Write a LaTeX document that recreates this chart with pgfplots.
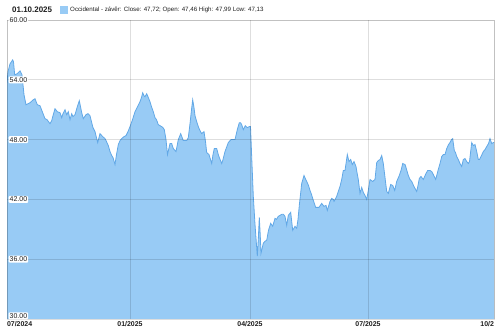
\documentclass[border=0pt]{standalone}
\usepackage{pgfplots}
\pgfplotsset{compat=1.18}
\usepackage{pgfplotstable}
\usepackage{fontspec}
\setmainfont{Liberation Sans}
\definecolor{areafill}{RGB}{152,203,245}
\definecolor{arealine}{RGB}{98,168,230}
\definecolor{txt}{RGB}{30,30,30}
\pgfplotstableread{
x y
7 53.7
8 54.8
10 55.6
12.7 56.0
13.5 55.8
14.7 54.5
17 54.6
20 54.9
22 54.5
24 52.5
26 51.5
28 51.6
30 51.7
33.3 52.0
35 52.1
37.3 51.5
40 51.4
42.7 50.7
45 50.1
47 50.0
50 49.6
51.7 49.9
53 50.4
55 51.1
57.3 50.8
60 50.7
61.7 50.2
63 50.6
65 51.0
66.7 50.5
68.3 50.8
70 50.0
71.7 50.6
73 50.3
75 50.5
77.3 51.3
79.3 51.9
81.7 50.7
83.3 50.1
86 50.5
88 50.6
90 50.4
91.7 49.7
93 49.2
95 48.8
97.7 47.7
100 48.6
102.7 48.3
105 48.1
106.5 47.8
108.3 47.4
110 46.8
111.7 46.4
113 46.2
115 45.5
116.5 46.5
118.3 47.5
120 47.9
121.7 48.1
124 48.3
126 48.4
128 48.8
130 49.3
132.5 50.0
135 50.8
137.5 51.3
140 51.8
141.7 52.3
142.7 52.7
144 52.4
145 52.3
146.7 52.6
148 52.3
150 51.8
151.5 51.3
153.3 50.8
155 50.2
156.5 50.0
158.3 49.5
160 49.4
161.7 49.3
163 49.2
164.3 49.0
166 48.0
167.5 46.5
170 47.6
171.7 47.6
173.3 47.1
176 46.8
178.3 48.0
180.7 48.6
183.3 47.9
186.7 47.9
188.3 48.2
190 49.6
191.5 51.0
192.7 52.0
194 51.2
195 50.4
196.7 49.8
198.3 49.3
200 48.9
201.7 48.6
204 48.8
205.5 47.8
206.7 46.7
209 46.5
210.5 46.0
211.7 45.6
213 46.5
214.3 47.1
216.7 47.1
218 46.6
219.3 46.2
221.7 45.6
223 46.0
225 46.8
228.3 47.7
231 48.0
235 48.0
237.3 49.0
239.3 49.7
240.5 49.7
241.7 49.5
243.3 49.0
245.3 49.4
247.3 49.2
249.3 49.3
250.5 49.3
252 45.5
253.3 42.3
255 39.5
257.3 36.3
258.3 38.0
259.3 40.2
260.2 38.5
261 36.6
263.3 37.6
265 37.8
266.7 37.9
268.5 38.9
270.7 39.6
272.7 39.3
275 40.1
276.5 40.0
278.3 40.3
280 40.4
281.7 40.5
283.5 40.5
285 40.3
286.7 39.4
288.3 40.4
290.7 40.7
292.7 38.9
295 39.3
296.7 39.1
298 40.0
299.3 41.4
300.5 42.5
301.7 43.6
304 44.4
305.3 44.1
306.7 43.8
308.5 43.4
310 42.9
311.5 42.5
312.7 42.1
314 41.7
315.7 41.2
317.5 41.2
319 41.2
321.7 41.6
324 41.3
326 41.4
327.3 40.9
330 41.8
331.7 42.1
333.3 42.0
334 41.8
336.7 42.3
338.3 42.8
340 43.3
341.7 44.0
343.3 44.9
345 44.9
347.3 46.5
349 45.8
350.7 46.0
352.3 45.5
354 45.8
356 45.3
357 44.7
358.3 44.0
360 42.6
361.7 43.2
363.3 42.7
365 42.4
366.7 42.0
368.3 42.9
370 44.0
372.7 43.8
375 44.0
376.7 45.7
378.3 45.9
380 46.0
381.7 46.4
383.3 45.6
385 44.2
386.7 42.8
388.3 42.6
390.7 43.5
392.7 43.4
394.7 42.9
396.7 43.8
399.3 44.4
401 44.9
402.7 45.6
405 45.5
406 45.2
408.3 44.4
410 44.0
411.7 43.8
413.5 43.4
415 43.1
416.7 42.8
418 43.4
419.3 44.1
421 44.3
423.3 44.0
426 44.6
427.7 44.9
430 44.9
431.7 44.8
433.3 44.5
435.7 44.0
438 44.9
440 45.6
441.7 46.3
443.3 46.5
445 46.5
446.7 47.1
448.5 47.5
450 47.7
451.5 48.0
452.7 48.1
454.3 46.9
455.5 46.7
456.7 46.3
458.3 46.0
460 45.6
461.7 45.3
463.3 46.0
465 46.1
466.7 45.8
468.3 45.6
469.5 45.8
471.7 47.7
473.3 47.4
475 47.5
476.5 46.9
478.3 46.0
479.5 46.0
481 46.3
483.3 46.8
485 47.0
486.7 47.3
488.5 47.6
490 48.1
491.7 47.6
493.3 47.7
494 47.72
}\price
\begin{document}
\begin{tikzpicture}
\useasboundingbox (0,0) rectangle (500bp,330bp);
\begin{axis}[
  at={(7bp,11bp)}, anchor=south west,
  scale only axis, width=487bp, height=299bp,
  xmin=7, xmax=494, ymin=30, ymax=60,
  axis on top,
  xtick={7,130,250,368,494},
  xticklabels={\makebox[0pt][l]{07/2024},01/2025,04/2025,07/2025,\makebox[0pt][r]{10/2}},
  ytick={36,42,48,54,60},
  yticklabels={36.00,42.00,48.00,54.00,60.00},
  extra y ticks={30},
  extra y tick labels={30.00},
  extra y tick style={grid=none, yticklabel style={anchor=south west, yshift=-0.5bp}},
  tick style={draw=none},
  grid=major,
  grid style={black, opacity=0.13, line width=0.6bp},
  axis line style={black, opacity=0.13, line width=0.6bp},
  xticklabel style={font=\fontsize{7}{8}\selectfont\bfseries, text=txt, inner sep=0pt, anchor=north, yshift=-2bp},
  yticklabel style={font=\fontsize{7}{8}\selectfont, text=txt, anchor=west, xshift=1.5bp, fill=white, rounded corners=1bp, inner sep=1pt},
  clip=true,
]
\addplot[draw=none, fill=areafill] table[x=x,y=y] {\price} \closedcycle;
\addplot[arealine, line width=0.8bp] table[x=x,y=y] {\price};
\end{axis}
\node[anchor=west, text=txt, font=\fontsize{8}{9}\selectfont\bfseries, inner sep=0pt] at (12bp,320bp) {01.10.2025};
\fill[areafill] (60bp,316bp) rectangle (68bp,324bp);
\node[anchor=west, text=txt, font=\fontsize{6.2}{7}\selectfont, inner sep=0pt] at (70bp,320bp) {Occidental - závěr: Close: 47,72; Open: 47,46 High: 47,99 Low: 47,13};
\end{tikzpicture}
\end{document}
